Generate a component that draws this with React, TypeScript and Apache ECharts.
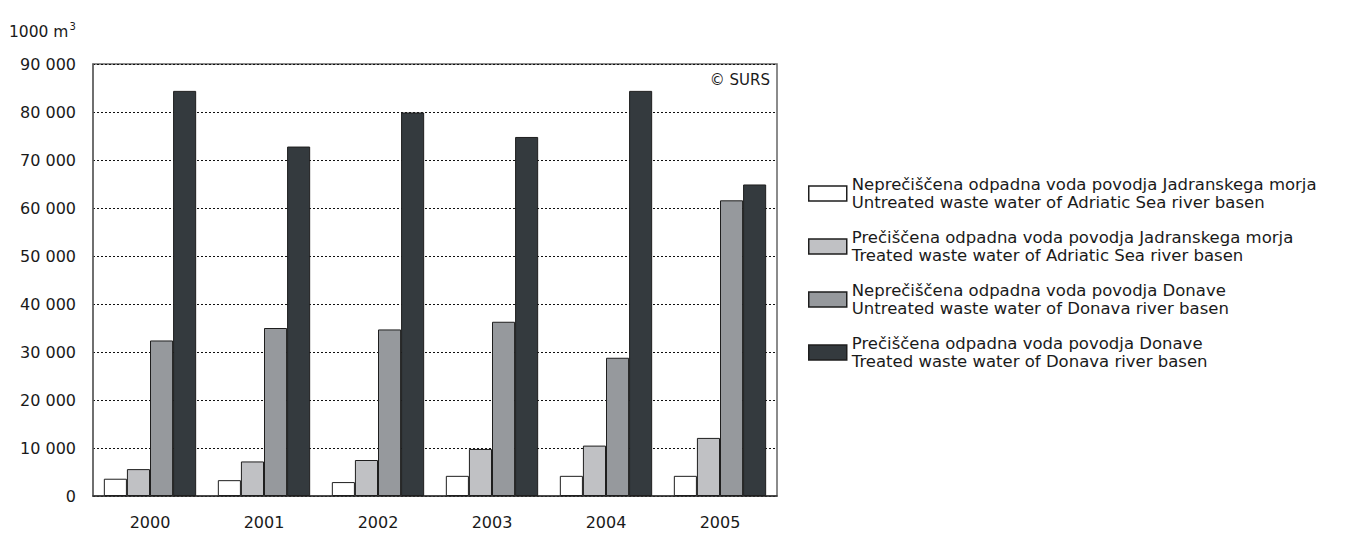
import React, { useEffect, useRef } from "react";
import * as echarts from "echarts";

const years = ["2000", "2001", "2002", "2003", "2004", "2005"];
const untreatedAdriatic = [3600, 3300, 2900, 4200, 4200, 4200];
const treatedAdriatic = [5600, 7200, 7500, 9800, 10500, 12100];
const untreatedDonava = [32400, 35000, 34700, 36300, 28800, 61600];
const treatedDonava = [84400, 72800, 79900, 74800, 84400, 64900];

const seriesNames = [
  "Neprečiščena odpadna voda povodja Jadranskega morja\nUntreated waste water of Adriatic Sea river basen",
  "Prečiščena odpadna voda povodja Jadranskega morja\nTreated waste water of Adriatic Sea river basen",
  "Neprečiščena odpadna voda povodja Donave\nUntreated waste water of Donava river basen",
  "Prečiščena odpadna voda povodja Donave\nTreated waste water of Donava river basen",
];
const seriesData = [untreatedAdriatic, treatedAdriatic, untreatedDonava, treatedDonava];
const colors = ["#ffffff", "#c0c1c4", "#96999d", "#343a3e"];

export default function App() {
  const ref = useRef<HTMLDivElement>(null);
  useEffect(() => {
    if (!ref.current) return;
    const chart = echarts.init(ref.current, null, { renderer: "svg" });
    const font = "DejaVu Sans, Arial, sans-serif";
    chart.setOption({
      animation: false,
      textStyle: { fontFamily: font },
      grid: {
        left: 93,
        top: 64,
        right: 570,
        bottom: 37,
        show: true,
        borderColor: "#666",
        borderWidth: 1.5,
        backgroundColor: "transparent",
      },
      legend: {
        orient: "vertical",
        left: 808,
        top: 176,
        padding: 0,
        icon: "rect",
        itemWidth: 38,
        itemHeight: 15,
        itemGap: 18,
        selectedMode: false,
        itemStyle: { borderColor: "#1e1e1e", borderWidth: 1.5 },
        textStyle: { fontSize: 16.5, color: "#1a1a1a", lineHeight: 17.5, fontFamily: font, padding: [0, 0, 0, 0] },
        data: seriesNames,
      },
      xAxis: {
        type: "category",
        data: years,
        axisLine: { lineStyle: { color: "#333", width: 1.5 } },
        axisTick: { show: false },
        axisLabel: { fontSize: 16, color: "#1a1a1a", margin: 18 },
      },
      yAxis: {
        type: "value",
        min: 0,
        max: 90000,
        interval: 10000,
        axisLine: { show: true, lineStyle: { color: "#666", width: 1.5 } },
        axisTick: { show: false },
        axisLabel: {
          fontSize: 16,
          color: "#1a1a1a",
          margin: 17,
          formatter: (v: number) => (v === 0 ? "0" : v.toLocaleString("en-US").replace(/,/g, " ")),
        },
        splitLine: { show: true, lineStyle: { color: "#111", type: [2, 2], width: 1 } },
      },
      graphic: [
        {
          type: "text",
          left: 9,
          top: 21,
          style: {
            text: "{a|1000 m}{s|3}",
            rich: {
              a: { fontSize: 15.5, fill: "#1a1a1a", fontFamily: font, verticalAlign: "bottom" },
              s: { fontSize: 10, fill: "#1a1a1a", fontFamily: font, verticalAlign: "top", padding: [0, 0, 9, 1] },
            },
          },
        },
        {
          type: "text",
          right: 1347 - 770,
          top: 72,
          style: { text: "© SURS", fontSize: 15, fill: "#1a1a1a", fontFamily: font },
        },
      ],
      series: seriesData.map((d, i) => ({
        name: seriesNames[i],
        type: "bar",
        data: d,
        barGap: "0%",
        barCategoryGap: "19%",
        itemStyle: { color: colors[i], borderColor: "#1e1e1e", borderWidth: 1 },
      })),
    });
    return () => chart.dispose();
  }, []);
  return <div ref={ref} style={{ width: 1347, height: 533, position: "absolute", left: 0, top: 0 }} />;
}
